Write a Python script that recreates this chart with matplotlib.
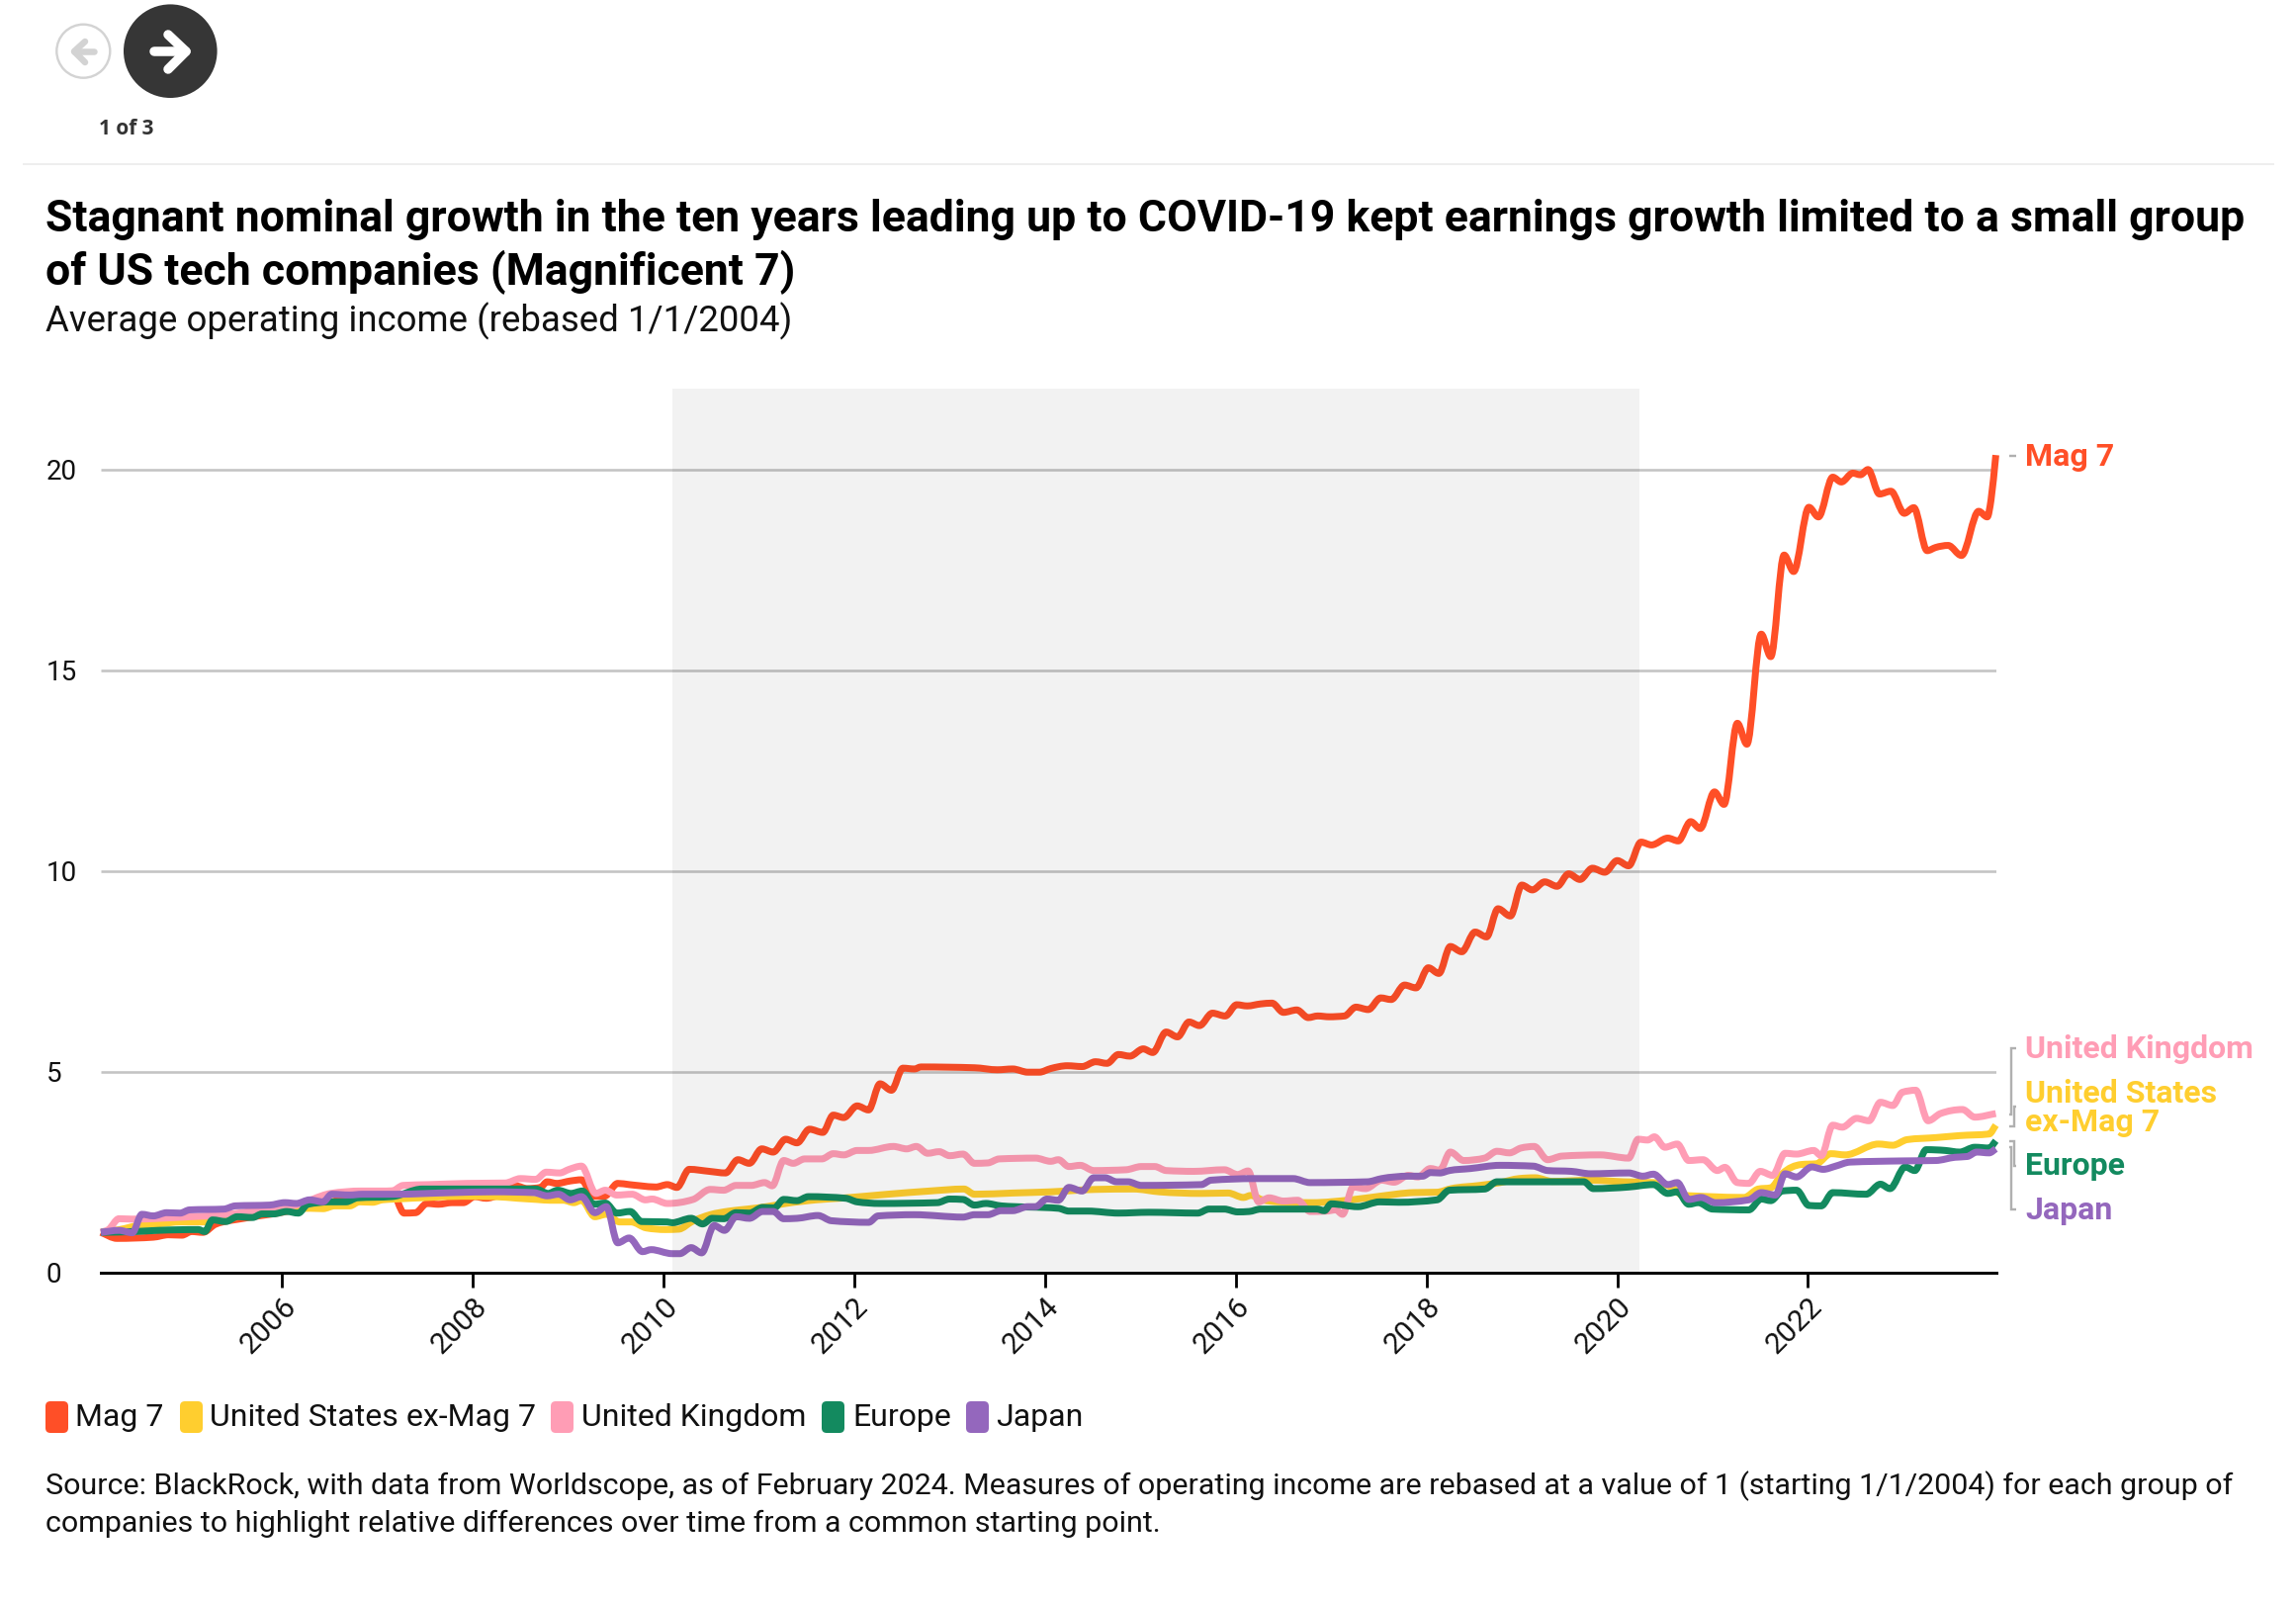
import matplotlib
matplotlib.use("Agg")
import matplotlib.pyplot as plt
import numpy as np
from matplotlib.path import Path
from matplotlib.patches import PathPatch, Circle, FancyBboxPatch

W, H = 2322, 1622

# ---- data (decimal year, operating income rebased) ----
mag7_t = [2004.10,2004.27,2004.65,2004.81,2004.95,2005.05,2005.17,2005.30,2005.60,2006.00,2006.40,2006.80,2007.15,2007.28,2007.40,2007.52,2007.64,2007.78,2007.90,2008.02,2008.14,2008.26,2008.45,2008.57,2008.71,2008.78,2008.88,2009.02,2009.14,2009.26,2009.38,2009.52,2009.64,2009.76,2009.92,2010.04,2010.14,2010.27,2010.48,2010.65,2010.78,2010.90,2011.03,2011.15,2011.28,2011.40,2011.53,2011.67,2011.78,2011.89,2012.03,2012.15,2012.27,2012.39,2012.51,2012.63,2012.70,2013.26,2013.50,2013.66,2013.82,2013.94,2014.06,2014.235,2014.39,2014.53,2014.65,2014.77,2014.89,2015.03,2015.13,2015.27,2015.39,2015.51,2015.62,2015.755,2015.89,2016.01,2016.12,2016.26,2016.38,2016.50,2016.64,2016.76,2016.86,2016.98,2017.14,2017.26,2017.39,2017.52,2017.63,2017.77,2017.89,2018.02,2018.13,2018.25,2018.37,2018.51,2018.63,2018.75,2018.88,2019.00,2019.11,2019.24,2019.37,2019.49,2019.61,2019.74,2019.87,2020.00,2020.12,2020.25,2020.36,2020.53,2020.64,2020.77,2020.87,2021.02,2021.12,2021.26,2021.36,2021.51,2021.61,2021.75,2021.85,2022.01,2022.11,2022.26,2022.35,2022.47,2022.55,2022.63,2022.75,2022.87,2023.01,2023.11,2023.25,2023.34,2023.47,2023.61,2023.79,2023.88,2023.92,2023.97]
mag7_v = [1.00,0.85,0.88,0.94,0.93,1.02,1.00,1.20,1.35,1.50,1.70,1.90,2.03,1.48,1.49,1.72,1.70,1.74,1.74,1.89,1.85,1.92,2.16,2.09,2.12,2.26,2.22,2.28,2.31,1.90,1.90,2.22,2.19,2.16,2.13,2.19,2.12,2.57,2.52,2.48,2.81,2.72,3.08,3.00,3.32,3.23,3.57,3.49,3.92,3.86,4.15,4.05,4.70,4.54,5.09,5.07,5.12,5.10,5.05,5.07,4.99,4.99,5.08,5.15,5.13,5.25,5.21,5.43,5.39,5.57,5.48,5.99,5.87,6.24,6.15,6.46,6.39,6.67,6.64,6.69,6.71,6.48,6.54,6.35,6.39,6.37,6.39,6.61,6.55,6.84,6.80,7.16,7.09,7.59,7.45,8.12,7.99,8.48,8.36,9.06,8.88,9.65,9.53,9.73,9.62,9.93,9.79,10.07,9.97,10.26,10.13,10.72,10.65,10.82,10.75,11.23,11.06,11.97,11.66,13.68,13.16,15.90,15.34,17.87,17.46,19.06,18.82,19.81,19.69,19.91,19.87,20.00,19.39,19.46,18.91,19.05,17.98,18.06,18.11,17.86,18.96,18.82,19.25,20.36]

us_t = [2004.10,2004.30,2004.49,2004.70,2004.94,2005.19,2005.30,2005.60,2006.00,2006.29,2006.43,2006.55,2006.71,2006.81,2006.95,2007.05,2007.19,2007.54,2007.88,2008.23,2008.47,2008.67,2008.81,2008.95,2009.06,2009.14,2009.28,2009.40,2009.54,2009.66,2009.82,2010.02,2010.16,2010.30,2010.49,2010.69,2010.88,2011.08,2011.28,2011.60,2011.91,2012.35,2012.79,2013.15,2013.26,2013.66,2014.06,2014.53,2014.93,2015.20,2015.64,2015.92,2016.08,2016.16,2016.28,2016.45,2016.80,2017.21,2017.51,2017.86,2018.11,2018.26,2018.56,2018.77,2018.97,2019.14,2019.32,2019.72,2020.07,2020.38,2020.58,2020.68,2020.98,2021.33,2021.48,2021.61,2021.73,2021.93,2022.09,2022.24,2022.39,2022.74,2022.89,2023.04,2023.34,2023.59,2023.90,2023.97]
us_v = [1.00,1.07,1.17,1.21,1.26,1.26,1.33,1.40,1.55,1.60,1.59,1.66,1.66,1.76,1.75,1.81,1.83,1.87,1.90,1.89,1.85,1.82,1.80,1.80,1.74,1.80,1.39,1.45,1.26,1.26,1.11,1.07,1.08,1.27,1.44,1.53,1.58,1.64,1.72,1.81,1.86,1.95,2.03,2.08,1.95,1.98,2.01,2.07,2.08,2.01,1.97,1.98,1.87,1.92,1.81,1.76,1.74,1.81,1.90,1.99,2.00,2.09,2.17,2.24,2.34,2.36,2.27,2.30,2.26,2.24,2.11,1.93,1.89,1.87,2.08,2.11,2.46,2.69,2.71,2.96,2.93,3.20,3.17,3.31,3.36,3.41,3.45,3.67]

uk_t = [2004.10,2004.18,2004.29,2004.43,2005.05,2005.29,2005.57,2005.81,2005.95,2006.15,2006.51,2006.83,2007.15,2007.27,2007.54,2007.94,2008.34,2008.50,2008.66,2008.77,2008.91,2009.01,2009.14,2009.29,2009.39,2009.51,2009.67,2009.81,2009.88,2010.04,2010.31,2010.49,2010.63,2010.76,2010.92,2011.06,2011.14,2011.26,2011.36,2011.48,2011.66,2011.78,2011.89,2012.03,2012.15,2012.41,2012.55,2012.65,2012.77,2012.89,2013.00,2013.14,2013.26,2013.40,2013.52,2013.90,2014.06,2014.14,2014.25,2014.37,2014.51,2014.85,2015.01,2015.15,2015.27,2015.56,2015.88,2016.02,2016.13,2016.24,2016.35,2016.50,2016.65,2016.78,2016.95,2017.05,2017.12,2017.23,2017.36,2017.53,2017.66,2017.81,2017.91,2018.04,2018.14,2018.25,2018.39,2018.61,2018.74,2018.87,2018.99,2019.13,2019.27,2019.42,2019.82,2020.12,2020.22,2020.32,2020.39,2020.50,2020.63,2020.75,2020.90,2021.05,2021.13,2021.26,2021.38,2021.50,2021.63,2021.76,2021.88,2022.06,2022.14,2022.26,2022.36,2022.51,2022.64,2022.76,2022.89,2022.99,2023.13,2023.26,2023.39,2023.62,2023.75,2023.97]
uk_v = [1.00,1.07,1.34,1.33,1.39,1.42,1.49,1.58,1.60,1.68,1.97,2.03,2.03,2.17,2.19,2.22,2.23,2.34,2.32,2.50,2.48,2.57,2.65,1.97,2.05,1.93,1.95,1.81,1.83,1.72,1.82,2.07,2.05,2.17,2.17,2.24,2.16,2.79,2.72,2.83,2.83,2.96,2.93,3.04,3.04,3.14,3.08,3.14,2.97,3.01,2.91,2.95,2.72,2.73,2.83,2.85,2.77,2.81,2.64,2.67,2.54,2.56,2.64,2.64,2.54,2.52,2.56,2.44,2.53,1.76,1.86,1.78,1.80,1.52,1.53,1.56,1.45,2.13,2.09,2.30,2.25,2.42,2.38,2.59,2.55,3.00,2.79,2.85,3.02,2.98,3.10,3.14,2.81,2.90,2.93,2.85,3.32,3.30,3.38,3.12,3.20,2.79,2.81,2.54,2.62,2.24,2.22,2.52,2.42,2.97,2.95,3.04,2.91,3.67,3.62,3.84,3.78,4.24,4.16,4.49,4.54,3.78,3.96,4.06,3.87,3.96]

eu_t = [2004.10,2004.46,2004.70,2005.12,2005.19,2005.27,2005.41,2005.53,2005.69,2005.79,2005.91,2006.05,2006.17,2006.27,2006.51,2006.67,2006.79,2007.15,2007.47,2008.66,2008.79,2008.89,2009.03,2009.15,2009.27,2009.39,2009.51,2009.65,2009.77,2010.04,2010.09,2010.29,2010.41,2010.51,2010.63,2010.76,2010.90,2011.04,2011.16,2011.26,2011.40,2011.52,2011.91,2012.03,2012.27,2012.87,2013.00,2013.14,2013.26,2013.38,2013.54,2014.14,2014.25,2014.45,2014.77,2015.09,2015.60,2015.72,2015.88,2016.02,2016.14,2016.26,2016.85,2016.93,2017.00,2017.28,2017.51,2017.71,2018.11,2018.24,2018.61,2018.74,2019.65,2019.75,2020.12,2020.38,2020.53,2020.63,2020.75,2020.85,2021.00,2021.38,2021.51,2021.61,2021.73,2021.88,2022.01,2022.14,2022.26,2022.61,2022.76,2022.86,2023.02,2023.12,2023.24,2023.44,2023.59,2023.75,2023.90,2023.97]
eu_v = [1.00,1.02,1.05,1.07,1.02,1.31,1.27,1.39,1.37,1.46,1.46,1.52,1.48,1.70,1.76,1.76,1.86,1.89,2.08,2.08,1.97,2.05,1.97,2.03,1.70,1.73,1.48,1.52,1.27,1.26,1.24,1.35,1.21,1.35,1.34,1.49,1.48,1.62,1.61,1.82,1.79,1.89,1.85,1.76,1.72,1.74,1.83,1.82,1.68,1.72,1.66,1.60,1.53,1.53,1.48,1.50,1.48,1.58,1.58,1.51,1.52,1.58,1.58,1.54,1.71,1.64,1.76,1.75,1.81,2.05,2.08,2.26,2.26,2.09,2.13,2.19,1.97,2.01,1.70,1.74,1.58,1.56,1.83,1.79,2.03,2.05,1.67,1.66,1.99,1.95,2.20,2.09,2.63,2.54,3.06,3.04,3.00,3.12,3.10,3.28]

jp_t = [2004.10,2004.29,2004.43,2004.53,2004.65,2004.79,2004.93,2005.03,2005.39,2005.51,2005.87,2006.03,2006.15,2006.29,2006.43,2006.52,2006.71,2006.84,2007.19,2007.78,2008.23,2008.64,2008.78,2008.90,2009.02,2009.14,2009.28,2009.40,2009.52,2009.64,2009.78,2009.87,2010.09,2010.17,2010.29,2010.40,2010.53,2010.64,2010.76,2010.90,2011.04,2011.15,2011.26,2011.40,2011.62,2011.76,2012.15,2012.25,2012.63,2013.14,2013.26,2013.40,2013.54,2013.66,2013.82,2013.90,2014.02,2014.14,2014.25,2014.39,2014.51,2014.63,2014.75,2014.87,2015.01,2015.64,2015.74,2016.20,2016.60,2016.78,2017.38,2017.53,2017.81,2017.96,2018.04,2018.14,2018.24,2018.46,2018.77,2019.12,2019.27,2019.52,2019.72,2020.12,2020.27,2020.38,2020.53,2020.63,2020.75,2020.88,2021.03,2021.38,2021.51,2021.66,2021.76,2021.88,2022.04,2022.16,2022.29,2022.44,2022.99,2023.34,2023.54,2023.67,2023.77,2023.90,2023.97]
jp_v = [1.00,1.05,0.99,1.45,1.41,1.49,1.48,1.56,1.58,1.66,1.68,1.74,1.72,1.81,1.76,1.95,1.93,1.95,1.95,1.99,2.01,1.99,1.91,1.95,1.81,1.89,1.49,1.64,0.74,0.86,0.52,0.57,0.47,0.47,0.62,0.49,1.17,1.05,1.39,1.35,1.52,1.52,1.34,1.35,1.42,1.29,1.25,1.41,1.44,1.38,1.44,1.44,1.54,1.54,1.64,1.64,1.83,1.80,2.12,2.03,2.36,2.36,2.26,2.26,2.17,2.19,2.30,2.34,2.34,2.24,2.26,2.34,2.40,2.40,2.49,2.48,2.54,2.59,2.67,2.65,2.54,2.52,2.46,2.48,2.40,2.45,2.19,2.24,1.82,1.87,1.74,1.81,1.99,1.93,2.46,2.38,2.63,2.57,2.65,2.75,2.78,2.79,2.87,2.89,3.00,2.98,3.08]

series_names = ["Mag 7", "United States ex-Mag 7", "United Kingdom", "Europe", "Japan"]
series_colors = ["#FF4F27", "#FFCE2F", "#FF9DB5", "#138A5F", "#9467BD"]
series_t = [mag7_t, us_t, uk_t, eu_t, jp_t]
series_v = [mag7_v, us_v, uk_v, eu_v, jp_v]

y_ticks = [0, 5, 10, 15, 20]
x_ticks = [2006, 2008, 2010, 2012, 2014, 2016, 2018, 2020, 2022]
shade_span = (2010.09, 2020.23)
x_lim = (2004.10, 2023.976)
y_lim = (0, 22.02)

title_lines = ["Stagnant nominal growth in the ten years leading up to COVID-19 kept earnings growth limited to a small group",
               "of US tech companies (Magnificent 7)"]
subtitle = "Average operating income (rebased 1/1/2004)"
source_lines = ["Source: BlackRock, with data from Worldscope, as of February 2024. Measures of operating income are rebased at a value of 1 (starting 1/1/2004) for each group of",
                "companies to highlight relative differences over time from a common starting point."]

plt.rcParams["font.family"] = ["Roboto", "DejaVu Sans"]
fig = plt.figure(figsize=(W / 100, H / 100), dpi=100, facecolor="white")

# main axes, placed in pixels
L, R, T, B = 102, 2019, 392.8, 1286.8
ax = fig.add_axes([L / W, 1 - B / H, (R - L) / W, (B - T) / H])
ax.set_xlim(*x_lim)
ax.set_ylim(*y_lim)
for s in ["top", "left", "right"]:
    ax.spines[s].set_visible(False)
ax.spines["bottom"].set_linewidth(3 * 0.72)
ax.spines["bottom"].set_color("black")
ax.spines["bottom"].set_zorder(20)
ax.set_yticks(y_ticks)
ax.set_xticks(x_ticks)
ax.set_xticklabels([str(v) for v in x_ticks], rotation=45, ha="right", va="top",
                   rotation_mode="anchor", fontsize=21.5)
ax.tick_params(axis="x", length=15 * 0.72, width=2.8 * 0.72, color="black", pad=3.5)
ax.tick_params(axis="y", length=0, labelsize=20, pad=0)
for lab in ax.get_xticklabels():
    lab.set_color("#111111")
for lab in ax.get_yticklabels():
    lab.set_horizontalalignment("left")
    lab.set_x(-0.0290)
    lab.set_color("#111111")
for v in y_ticks[1:]:
    ax.axhline(v, color="#C4C4C4", lw=2.6 * 0.72, zorder=1, solid_capstyle="butt")


def monotone_path(x, y):
    """Smooth curve through the given points (monotone cubic Beziers)."""
    x = np.asarray(x, float)
    y = np.asarray(y, float)
    h = np.diff(x)
    s = np.diff(y) / h
    m = np.zeros_like(y)
    m[0], m[-1] = s[0], s[-1]
    for i in range(1, len(x) - 1):
        if s[i - 1] * s[i] > 0:
            p = (s[i - 1] * h[i] + s[i] * h[i - 1]) / (h[i - 1] + h[i])
            m[i] = np.sign(s[i]) * min(abs(s[i - 1]), abs(s[i]), 0.5 * abs(p)) * 2
    verts = [(x[0], y[0])]
    codes = [Path.MOVETO]
    for i in range(len(h)):
        d = h[i] / 3
        verts += [(x[i] + d, y[i] + m[i] * d), (x[i + 1] - d, y[i + 1] - m[i + 1] * d), (x[i + 1], y[i + 1])]
        codes += [Path.CURVE4] * 3
    return Path(verts, codes)


for i, (t, v, c) in enumerate(zip(series_t, series_v, series_colors)):
    ax.add_patch(PathPatch(monotone_path(t, v), fill=False, edgecolor=c, lw=7 * 0.72,
                           capstyle="butt", joinstyle="round", zorder=3 + i, clip_on=False))

# shaded decade, overlaid on the lines
ax.axvspan(*shade_span, facecolor="black", alpha=0.05, lw=0, zorder=10)

# overlay in pixel coordinates for page furniture
ov = fig.add_axes([0, 0, 1, 1], facecolor="none")
ov.set_xlim(0, W)
ov.set_ylim(H, 0)
ov.axis("off")

# pager
ov.add_patch(Circle((84.3, 51.7), 27, facecolor="white", edgecolor="#D3D3D3", lw=2.4 * 0.72))
ov.plot([95, 75], [52, 52], color="#D3D3D3", lw=6.5 * 0.72, solid_capstyle="round")
ov.plot([86, 75, 86], [42, 52, 63], color="#D3D3D3", lw=6.5 * 0.72, solid_capstyle="round", solid_joinstyle="round")
ov.add_patch(Circle((172.3, 51.7), 47.3, facecolor="#363636", edgecolor="none"))
ov.plot([156, 188], [52, 52], color="white", lw=9.5 * 0.72, solid_capstyle="round")
ov.plot([170, 188, 170], [35, 52, 70], color="white", lw=9.5 * 0.72, solid_capstyle="round", solid_joinstyle="round")
ov.text(128, 130.5, "1 of 3", ha="center", va="center", fontsize=15, fontweight="bold",
        color="#333333", family=["Open Sans", "DejaVu Sans"])
ov.plot([23, 2300], [166, 166], color="#EEEEEE", lw=2 * 0.72, solid_capstyle="butt")

# title
ov.text(46, 222, title_lines[0], fontsize=32.15, fontweight="bold", color="black", va="center", ha="left")
ov.text(46, 275, title_lines[1], fontsize=32.15, fontweight="bold", color="black", va="center", ha="left")
ov.text(46, 325, subtitle, fontsize=26.4, color="#111111", va="center", ha="left")

# direct labels
labels = [("Mag 7", 462, 0), ("United Kingdom", 1061, 2), ("United States", 1106, 1),
          ("ex-Mag 7", 1135, 1), ("Europe", 1179, 3), ("Japan", 1224, 4)]
for txt, y, ci in labels:
    ov.text(2048, y, txt, fontsize=23, fontweight="bold", color=series_colors[ci], va="center", ha="left")
br = "#B0B0B0"
for xs, ys in [([2032, 2039], [461, 461]),
               ([2039, 2034, 2034, 2032], [1060, 1060, 1127, 1127]),
               ([2039, 2037, 2037, 2032], [1119, 1119, 1139, 1139]),
               ([2032, 2037, 2037, 2039], [1154, 1154, 1179, 1179]),
               ([2032, 2034, 2034, 2039], [1160, 1160, 1223, 1223])]:
    ov.plot(xs, ys, color=br, lw=2.4 * 0.72, solid_capstyle="butt", solid_joinstyle="miter")

# legend
leg_sw = [46, 182, 557, 831, 977]
leg_tx = [76.5, 212, 588, 862, 1007]
for name, c, sx, tx in zip(series_names, series_colors, leg_sw, leg_tx):
    ov.add_patch(FancyBboxPatch((sx + 4, 1421), 15, 24, boxstyle="round,pad=4,rounding_size=5",
                                facecolor=c, edgecolor="none"))
    ov.text(tx, 1433.5, name, fontsize=23, color="#111111", va="center", ha="left")

# source
ov.text(46, 1503, source_lines[0], fontsize=21.9, color="#111111", va="center", ha="left")
ov.text(46, 1541, source_lines[1], fontsize=21.9, color="#111111", va="center", ha="left")

fig.savefig("out.png", dpi=100, facecolor="white")
